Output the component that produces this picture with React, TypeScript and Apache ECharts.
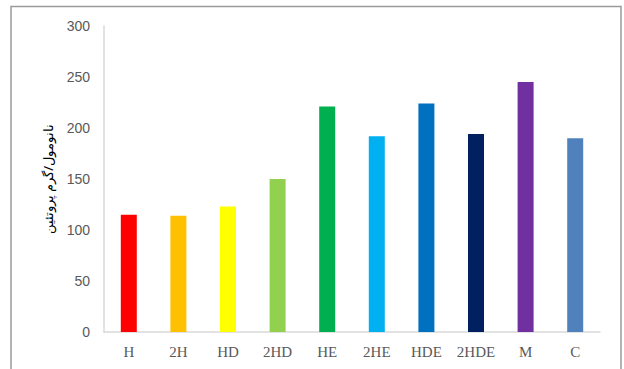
import React, { useEffect, useRef } from "react";
import * as echarts from "echarts";

const categories = ["H", "2H", "HD", "2HD", "HE", "2HE", "HDE", "2HDE", "M", "C"];
const values = [115, 114, 123, 150, 221, 192, 224, 194, 245, 190];
const barColors = ["#FF0000", "#FFC000", "#FFFF00", "#92D050", "#00B050", "#00B0F0", "#0070C0", "#002060", "#7030A0", "#4F81BD"];
const yAxisTitle = "نانومول/گرم پروتئین";

export default function App() {
  const ref = useRef<HTMLDivElement>(null);
  useEffect(() => {
    if (!ref.current) return;
    const chart = echarts.init(ref.current, undefined, { renderer: "svg" });
    chart.setOption({
      animation: false,
      backgroundColor: "#ffffff",
      graphic: [
        {
          type: "rect",
          shape: { x: 11, y: 6.5, width: 610, height: 380 },
          style: { fill: "none", stroke: "#9a9a9a", lineWidth: 1.5 },
          silent: true,
        },
      ],
      grid: { left: 104, right: 24, top: 26, bottom: 37 },
      xAxis: {
        type: "category",
        data: categories,
        axisLine: { show: true, lineStyle: { color: "#d9d9d9", width: 1.5 } },
        axisTick: { show: false },
        axisLabel: {
          interval: 0,
          hideOverlap: false,
          color: "#595959",
          fontFamily: "Liberation Serif",
          fontSize: 15,
          margin: 12,
        },
      },
      yAxis: {
        type: "value",
        min: 0,
        max: 300,
        interval: 50,
        name: yAxisTitle,
        nameLocation: "middle",
        nameRotate: 90,
        nameGap: 50,
        nameTextStyle: { color: "#000000", fontFamily: "Noto Sans", fontSize: 13 },
        axisLine: { show: true, lineStyle: { color: "#d9d9d9", width: 1.5 } },
        axisTick: { show: false },
        splitLine: { show: false },
        axisLabel: {
          color: "#595959",
          fontFamily: "Liberation Sans",
          fontSize: 14,
          margin: 14,
        },
      },
      series: [
        {
          type: "bar",
          data: values.map((v, i) => ({ value: v, itemStyle: { color: barColors[i] } })),
          barWidth: 16,
        },
      ],
    });
    return () => chart.dispose();
  }, []);
  return (
    <div
      ref={ref}
      style={{ position: "fixed", left: 0, top: 0, width: 624, height: 369 }}
    />
  );
}
